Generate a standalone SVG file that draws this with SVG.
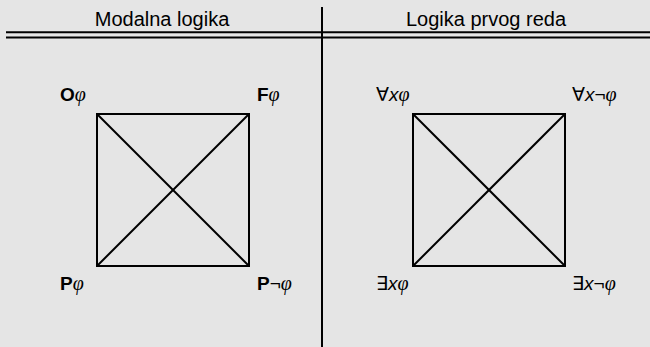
<svg xmlns="http://www.w3.org/2000/svg" width="650" height="347" viewBox="0 0 650 347">
<style>
.h{font-family:"Liberation Sans",Arial,sans-serif;font-size:20px;fill:#000}
.l{font-family:"Liberation Sans","DejaVu Sans",Arial,sans-serif;font-size:19px;fill:#000}
.b{font-weight:bold}
.i{font-family:"Liberation Serif","DejaVu Serif",serif;font-style:italic;font-size:20px}
.x{font-style:italic}
.ln{stroke:#000;stroke-width:2;fill:none}
</style>
<rect width="650" height="347" fill="#e5e5e5"/>
<g id="frame">
<line class="ln" x1="322" y1="7" x2="322" y2="347"/>
<line class="ln" x1="6" y1="32.3" x2="650" y2="32.3"/>
<line class="ln" x1="6" y1="37.5" x2="650" y2="37.5"/>
<text class="h" x="162" y="26" text-anchor="middle">Modalna logika</text>
<text class="h" x="486" y="26" text-anchor="middle">Logika prvog reda</text>
</g>
<g id="connectors">
<rect class="ln" x="97" y="114" width="152" height="152"/>
<line class="ln" x1="97" y1="114" x2="249" y2="266"/>
<line class="ln" x1="249" y1="114" x2="97" y2="266"/>
<rect class="ln" x="413" y="114" width="152" height="152"/>
<line class="ln" x1="413" y1="114" x2="565" y2="266"/>
<line class="ln" x1="565" y1="114" x2="413" y2="266"/>
</g>
<g id="O"><text class="l" x="60" y="101"><tspan class="b">O</tspan><tspan class="i">φ</tspan></text></g>
<g id="F"><text class="l" x="257" y="101"><tspan class="b">F</tspan><tspan class="i">φ</tspan></text></g>
<g id="P"><text class="l" x="60" y="290"><tspan class="b">P</tspan><tspan class="i">φ</tspan></text></g>
<g id="Pneg"><text class="l" x="257" y="290"><tspan class="b">P</tspan>¬<tspan class="i">φ</tspan></text></g>
<g id="A"><text class="l" x="376" y="101">∀<tspan class="x">x</tspan><tspan class="i">φ</tspan></text></g>
<g id="Aneg"><text class="l" x="572" y="101">∀<tspan class="x">x</tspan>¬<tspan class="i">φ</tspan></text></g>
<g id="E"><text class="l" x="376" y="290">∃<tspan class="x">x</tspan><tspan class="i">φ</tspan></text></g>
<g id="Eneg"><text class="l" x="572" y="290">∃<tspan class="x">x</tspan>¬<tspan class="i">φ</tspan></text></g>
</svg>
